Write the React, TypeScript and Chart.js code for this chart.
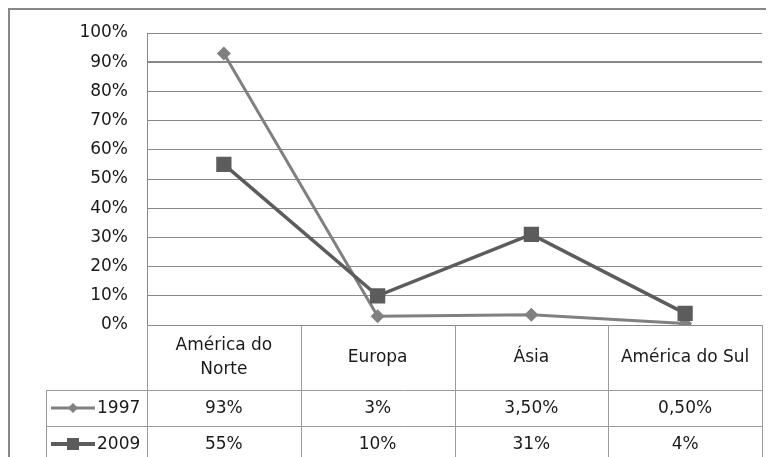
import React, { useEffect, useRef } from "react";
import { Chart, registerables } from "chart.js";

Chart.register(...registerables);

const categories = ["América do Norte", "Europa", "Ásia", "América do Sul"];
const seriesNames = ["1997", "2009"];
const values1997 = [93, 3, 3.5, 0.5];
const values2009 = [55, 10, 31, 4];
const table1997 = ["93%", "3%", "3,50%", "0,50%"];
const table2009 = ["55%", "10%", "31%", "4%"];

const FONT = '"DejaVu Sans", sans-serif';
const FONT_SIZE = 17;
const TEXT = "#1a1a1a";
const C1997 = "#808080";
const C2009 = "#5c5c5c";

function wrap(ctx: CanvasRenderingContext2D, text: string, maxW: number): string[] {
  const words = text.split(" ");
  const lines: string[] = [];
  let cur = "";
  for (const w of words) {
    const t = cur ? cur + " " + w : w;
    if (ctx.measureText(t).width > maxW && cur) {
      lines.push(cur);
      cur = w;
    } else cur = t;
  }
  if (cur) lines.push(cur);
  return lines;
}

const tablePlugin = {
  id: "dataTable",
  afterDraw(chart: any) {
    const ctx: CanvasRenderingContext2D = chart.ctx;
    const a = chart.chartArea;
    const xs = chart.scales.x;
    const n = categories.length;
    const colW = (a.right - a.left) / n;
    const hdrBottom = a.bottom + 65;
    const row1Bottom = hdrBottom + 36;
    const row2Bottom = row1Bottom + 36;
    const legendLeft = 38;

    ctx.save();
    // frame
    ctx.strokeStyle = "#878787";
    ctx.lineWidth = 2;
    ctx.strokeRect(1, 1, chart.width + 10, chart.height + 10);

    ctx.strokeStyle = "#9a9a9a";
    ctx.lineWidth = 1;
    ctx.beginPath();
    for (let i = 0; i <= n; i++) {
      const x = Math.round(a.left + i * colW) + 0.5;
      ctx.moveTo(x, a.bottom);
      ctx.lineTo(x, row2Bottom);
    }
    for (const y of [hdrBottom, row1Bottom, row2Bottom]) {
      ctx.moveTo(legendLeft, y + 0.5);
      ctx.lineTo(a.right + 0.5, y + 0.5);
    }
    ctx.moveTo(legendLeft + 0.5, hdrBottom);
    ctx.lineTo(legendLeft + 0.5, row2Bottom);
    ctx.stroke();

    ctx.font = `${FONT_SIZE}px ${FONT}`;
    ctx.fillStyle = TEXT;
    ctx.textAlign = "center";
    ctx.textBaseline = "middle";
    const hdrMid = (a.bottom + hdrBottom) / 2;
    categories.forEach((c, i) => {
      const cx = xs.getPixelForValue(i);
      const lines = wrap(ctx, c, colW - 12);
      const lh = 24;
      lines.forEach((l, k) => {
        ctx.fillText(l, cx, hdrMid + (k - (lines.length - 1) / 2) * lh);
      });
    });
    const r1 = (hdrBottom + row1Bottom) / 2;
    const r2 = (row1Bottom + row2Bottom) / 2;
    table1997.forEach((t, i) => ctx.fillText(t, xs.getPixelForValue(i), r1 + 1));
    table2009.forEach((t, i) => ctx.fillText(t, xs.getPixelForValue(i), r2 + 1));

    // legend keys
    const lx0 = legendLeft + 5;
    const lx1 = legendLeft + 49;
    const lcx = (lx0 + lx1) / 2;
    ctx.strokeStyle = C1997;
    ctx.lineWidth = 3;
    ctx.beginPath();
    ctx.moveTo(lx0, r1);
    ctx.lineTo(lx1, r1);
    ctx.stroke();
    ctx.fillStyle = C1997;
    ctx.beginPath();
    ctx.moveTo(lcx, r1 - 5);
    ctx.lineTo(lcx + 5, r1);
    ctx.lineTo(lcx, r1 + 5);
    ctx.lineTo(lcx - 5, r1);
    ctx.closePath();
    ctx.fill();

    ctx.strokeStyle = C2009;
    ctx.lineWidth = 4;
    ctx.beginPath();
    ctx.moveTo(lx0, r2);
    ctx.lineTo(lx1, r2);
    ctx.stroke();
    ctx.fillStyle = C2009;
    ctx.fillRect(lcx - 6, r2 - 6, 12, 12);

    ctx.fillStyle = TEXT;
    ctx.textAlign = "left";
    ctx.fillText(seriesNames[0], lx1 + 2, r1 + 1);
    ctx.fillText(seriesNames[1], lx1 + 2, r2 + 1);
    ctx.restore();
  },
};

export default function App() {
  const ref = useRef<HTMLCanvasElement>(null);
  useEffect(() => {
    document.documentElement.style.overflow = "hidden";
    document.body.style.overflow = "hidden";
    const chart = new Chart(ref.current!, {
      type: "line",
      data: {
        labels: categories,
        datasets: [
          {
            label: seriesNames[0],
            data: values1997,
            borderColor: C1997,
            backgroundColor: C1997,
            borderWidth: 3,
            pointStyle: "rectRot",
            pointRadius: 7,
            pointBorderWidth: 0,
            order: 1,
          },
          {
            label: seriesNames[1],
            data: values2009,
            borderColor: C2009,
            backgroundColor: C2009,
            borderWidth: 3.5,
            pointStyle: "rect",
            pointRadius: 10.8,
            pointBorderWidth: 0,
            order: 0,
          },
        ],
      },
      options: {
        responsive: false,
        animation: false,
        devicePixelRatio: 1,
        layout: { padding: { left: 0, top: 25, right: 26, bottom: 153 } },
        plugins: { legend: { display: false }, tooltip: { enabled: false } },
        scales: {
          x: { type: "category", offset: true, display: false },
          y: {
            min: 0,
            max: 100,
            afterFit: (s: any) => {
              s.width = 139;
              s.paddingTop = 0;
              s.paddingBottom = 0;
            },
            ticks: {
              stepSize: 10,
              padding: 19,
              color: TEXT,
              font: { family: FONT, size: FONT_SIZE },
              callback: (v: any) => v + "%",
            },
            grid: {
              drawTicks: false,
              color: "#888888",
              lineWidth: (c: any) => (c.tick && c.tick.value === 90 ? 2 : 1),
            },
            border: { display: true, color: "#888888", width: 1 },
          },
        },
      },
      plugins: [tablePlugin],
    });
    return () => chart.destroy();
  }, []);
  return (
    <div style={{ width: 780, height: 470 }}>
      <canvas ref={ref} width={780} height={470} style={{ display: "block" }} />
    </div>
  );
}
